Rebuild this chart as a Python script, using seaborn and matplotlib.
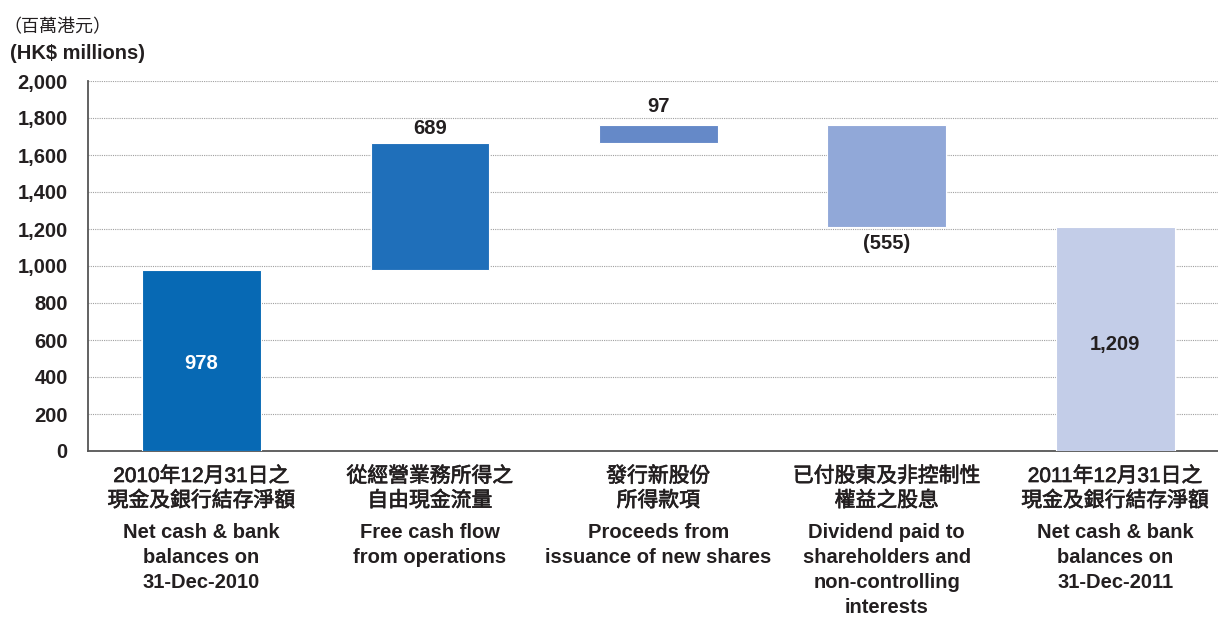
import numpy as np
import pandas as pd
import matplotlib
matplotlib.use("Agg")
import matplotlib.pyplot as plt
import matplotlib.patheffects as pe
import seaborn as sns

# ---- data ----
categories_zh = ["2010年12月31日之\n現金及銀行結存淨額", "從經營業務所得之\n自由現金流量",
                 "發行新股份\n所得款項", "已付股東及非控制性\n權益之股息", "2011年12月31日之\n現金及銀行結存淨額"]
categories_en = ["Net cash & bank\nbalances on\n31-Dec-2010", "Free cash flow\nfrom operations",
                 "Proceeds from\nissuance of new shares",
                 "Dividend paid to\nshareholders and\nnon-controlling\ninterests",
                 "Net cash & bank\nbalances on\n31-Dec-2011"]
values = [978, 689, 97, -555, 1209]
is_total = [True, False, False, False, True]
value_labels = ["978", "689", "97", "(555)", "1,209"]
y_ticks = [0, 200, 400, 600, 800, 1000, 1200, 1400, 1600, 1800, 2000]
colors = ["#0769b4", "#1f6fba", "#6589c8", "#91a8d8", "#c3cde8"]

# waterfall geometry from values
bottoms, heights = [], []
running = 0
for v, tot in zip(values, is_total):
    if tot:
        bottoms.append(0)
        heights.append(v)
        running = v
    else:
        if v >= 0:
            bottoms.append(running)
            heights.append(v)
        else:
            bottoms.append(running + v)
            heights.append(-v)
        running += v

df = pd.DataFrame({"cat": [f"c{i}" for i in range(len(values))], "height": heights})

sns.set_style("white")
plt.rcParams["font.family"] = ["Liberation Sans", "Noto Sans CJK TC", "DejaVu Sans"]
TXT = "#231f20"
FS = 14.5

W, H = 1218, 617
fig = plt.figure(figsize=(W / 100, H / 100), dpi=100)
ax_left, ax_bottom_px, ax_top_px = 88, 451, 81
ax = fig.add_axes([ax_left / W, 1 - ax_bottom_px / H, 1 - ax_left / W, (ax_bottom_px - ax_top_px) / H])

sns.barplot(data=df, x="cat", y="height", order=list(df["cat"]), bottom=bottoms,
            width=0.52, errorbar=None, color=colors[0], edgecolor="white", linewidth=0.8,
            ax=ax, zorder=3)
for p, c in zip(ax.patches, colors):
    p.set_facecolor(c)

ax.set_ylim(0, 2000)
ax.set_xlim(-0.497, 4.45)
ax.set_yticks(y_ticks)
ax.set_yticklabels([f"{t:,}" for t in y_ticks])
ax.set_xlabel("")
ax.set_ylabel("")
ax.tick_params(axis="x", length=0, labelbottom=False)
ax.tick_params(axis="y", length=7.5, width=1.1, color="#555555", pad=7,
               labelsize=FS, labelcolor=TXT)
for lbl in ax.get_yticklabels():
    lbl.set_fontweight("bold")
ax.yaxis.grid(True, linestyle=(0, (1, 1)), color="#a0a0a0", linewidth=0.8, zorder=0)
ax.set_axisbelow(True)
for s in ["top", "right"]:
    ax.spines[s].set_visible(False)
for s in ["left", "bottom"]:
    ax.spines[s].set_color("#555555")
    ax.spines[s].set_linewidth(1.3)

# value labels
tops = [b + h for b, h in zip(bottoms, heights)]
lbl_kw = dict(fontsize=FS, fontweight="bold", ha="center")
ax.annotate(value_labels[0], (0, heights[0] / 2), xytext=(0, -3), textcoords="offset pixels",
            va="center", color="white", **lbl_kw)
ax.annotate(value_labels[1], (1, tops[1]), xytext=(0, 5), textcoords="offset pixels",
            va="bottom", color=TXT, **lbl_kw)
ax.annotate(value_labels[2], (2, tops[2]), xytext=(0, 9), textcoords="offset pixels",
            va="bottom", color=TXT, **lbl_kw)
ax.annotate(value_labels[3], (3, bottoms[3]), xytext=(0, -7), textcoords="offset pixels",
            va="top", color=TXT, **lbl_kw)
ax.annotate(value_labels[4], (4, heights[4] / 2), xytext=(0, -5), textcoords="offset pixels",
            va="center", color=TXT, **lbl_kw)

# category labels (placed by pixel baseline under axes)
trans = ax.get_xaxis_transform()
def yax(px):
    return (ax_bottom_px - px) / (ax_bottom_px - ax_top_px)

thicken = [pe.withStroke(linewidth=0.5, foreground=TXT)]
for i, (zh, en) in enumerate(zip(categories_zh, categories_en)):
    for j, line in enumerate(zh.split("\n")):
        ax.text(i, yax(482 + 24.5 * j), line, transform=trans, ha="center", va="baseline",
                fontsize=15, color=TXT, clip_on=False, path_effects=thicken,
                family=["Liberation Sans", "Noto Sans CJK TC"])
    for j, line in enumerate(en.split("\n")):
        ax.text(i, yax(538 + 25 * j), line, transform=trans, ha="center", va="baseline",
                fontsize=FS, color=TXT, fontweight="bold", clip_on=False)

fig.text(3 / W, 1 - 32 / H, "（百萬港元）", fontsize=13, color=TXT, ha="left", va="baseline")
fig.text(10 / W, 1 - 59 / H, "(HK$ millions)", fontsize=FS, fontweight="bold", color=TXT,
         ha="left", va="baseline")

fig.savefig("out.png", dpi=100)
